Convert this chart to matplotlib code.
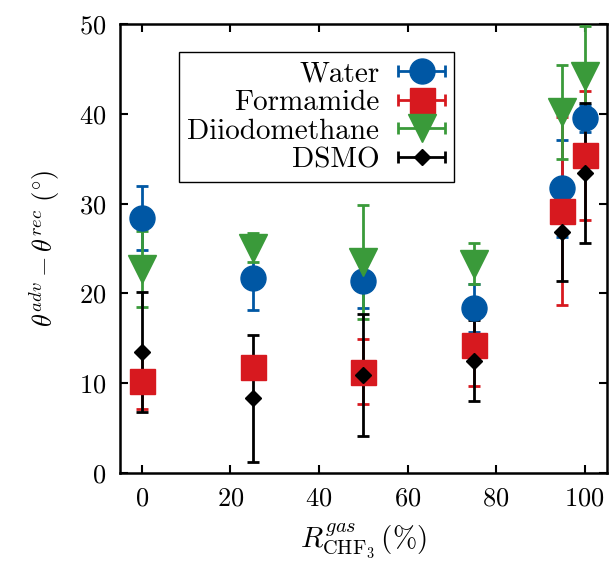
import numpy as np
import matplotlib
matplotlib.use("Agg")
import matplotlib.pyplot as plt
from matplotlib.container import ErrorbarContainer
from matplotlib.legend_handler import HandlerErrorbar

plt.rcParams['font.family'] = ['cmr10']
plt.rcParams['mathtext.fontset'] = 'cm'
plt.rcParams['axes.formatter.use_mathtext'] = True

x = [0, 25, 50, 75, 95, 100]

water = [28.4, 21.7, 21.4, 18.4, 31.7, 39.5]
water_err = [3.6, 3.5, 3.0, 2.7, 5.4, 1.5]

formamide = [10.3, 11.8, 11.3, 14.2, 29.2, 35.4]
formamide_err = [3.2, 1.2, 3.6, 4.5, 10.5, 7.2]

diiodo = [22.7, 25.1, 23.5, 23.3, 40.2, 44.2]
diiodo_err = [4.2, 1.6, 6.4, 2.3, 5.2, 5.6]

dsmo = [13.5, 8.3, 10.9, 12.5, 26.8, 33.4]
dsmo_err = [6.7, 7.1, 6.8, 4.5, 5.4, 7.8]

labels = ["Water", "Formamide", "Diiodomethane", "DSMO"]

series = [
    (water, water_err, "o", "#0057a4", 18),
    (formamide, formamide_err, "s", "#d7191f", 18),
    (diiodo, diiodo_err, "v", "#3a9a3a", 19.5),
    (dsmo, dsmo_err, "D", "black", 8.5),
]

fig = plt.figure(figsize=(6.11, 5.74), dpi=100)
ax = fig.add_axes([0.196, 0.176, 0.797, 0.782])

proxies = []
for (vals, errs, m, c, ms), lab in zip(series, labels):
    ax.errorbar(x, vals, yerr=errs, fmt=m, color=c, mec=c, ms=ms,
                elinewidth=2, capsize=4, capthick=2, zorder=3)
    p = ax.errorbar([np.nan], [np.nan], xerr=[1], fmt=m, color=c, mec=c, ms=ms,
                    elinewidth=2, capsize=4, capthick=2, label=lab)
    proxies.append(p)

ax.set_xlim(-5, 105)
ax.set_ylim(0, 50)
ax.set_xticks([0, 20, 40, 60, 80, 100])
ax.set_yticks([0, 10, 20, 30, 40, 50])
ax.tick_params(direction='in', length=6, width=1.5, top=True, right=True,
               labelsize=19, pad=10)
for s in ax.spines.values():
    s.set_linewidth(1.8)

ax.set_xlabel(r"$R^{gas}_{\mathrm{CHF}_3}\,(\%)$", fontsize=21, labelpad=8)
ax.set_ylabel(r"$\theta^{adv} - \theta^{rec}\ ({}^{\circ})$", fontsize=19, labelpad=12)

leg = ax.legend(handles=proxies, labels=labels, loc='upper left',
                bbox_to_anchor=(0.121, 0.938), borderaxespad=0.0,
                markerfirst=False,
                fontsize=21, frameon=True, fancybox=False, framealpha=1,
                edgecolor='black', labelspacing=0.08, handlelength=1.6,
                handletextpad=0.65, borderpad=0.3,
                handler_map={ErrorbarContainer: HandlerErrorbar(xerr_size=0.8)})
leg.get_frame().set_linewidth(1.0)

fig.savefig("out.png", dpi=100)
